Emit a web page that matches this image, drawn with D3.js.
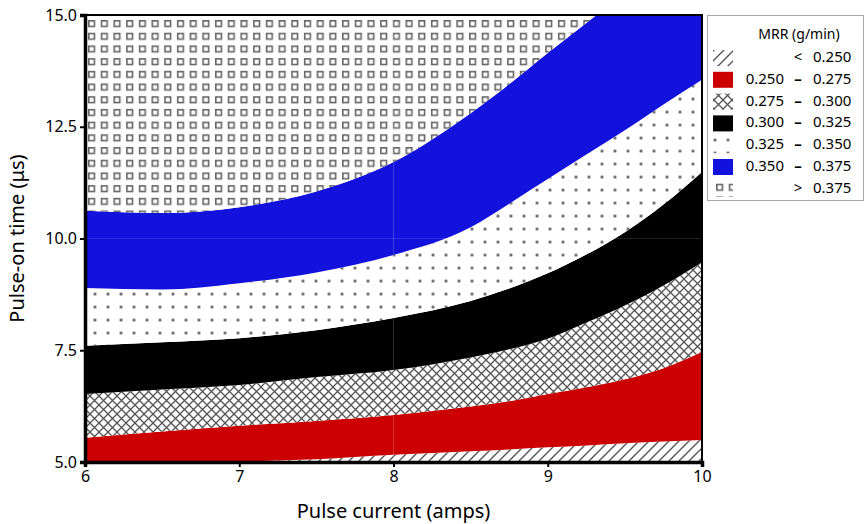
<!DOCTYPE html>
<html>
<head>
<meta charset="utf-8">
<script src="https://cdn.jsdelivr.net/npm/d3@7"></script>
<style>
  body { margin: 0; background: #fff; }
  text { font-family: "Noto Sans", sans-serif; fill: #000; }
</style>
</head>
<body>
<div id="chart"></div>
<script>
// ---- data ----
const pulseCurrent = [6, 6.5, 7, 7.5, 8, 8.5, 8.75, 9, 9.25, 9.5, 9.75, 10];
// pulse-on time where MRR crosses each contour level
const mrr250 = [4.75, 4.88, 5.00, 5.06, 5.16, 5.24, 5.28, 5.33, 5.37, 5.42, 5.46, 5.49];
const mrr275 = [5.54, 5.68, 5.81, 5.92, 6.05, 6.24, 6.36, 6.52, 6.67, 6.85, 7.10, 7.46];
const mrr300 = [6.52, 6.62, 6.72, 6.90, 7.06, 7.34, 7.52, 7.76, 8.12, 8.50, 8.95, 9.47];
const mrr325 = [7.60, 7.68, 7.77, 7.95, 8.22, 8.60, 8.88, 9.22, 9.64, 10.14, 10.76, 11.49];
const mrr350 = [8.89, 8.86, 9.00, 9.24, 9.63, 10.25, 10.78, 11.33, 11.88, 12.42, 13.00, 13.55];
const mrr375 = [10.62, 10.57, 10.70, 11.05, 11.71, 12.80, 13.45, 14.15, 14.82, 15.50, 16.10, 16.60];

const xTicks = [6, 7, 8, 9, 10];
const yTicks = [5, 7.5, 10, 12.5, 15];
const legendLo = ['', '0.250', '0.275', '0.300', '0.325', '0.350', ''];
const legendHi = ['0.250', '0.275', '0.300', '0.325', '0.350', '0.375', '0.375'];
const legendSign = ['<', '–', '–', '–', '–', '–', '>'];
const bandKinds = ['hatch', 'red', 'cross', 'black', 'dots', 'blue', 'squares'];

// ---- layout ----
const W = 865, H = 524;
const plot = { left: 85, right: 702, top: 15, bottom: 462 };

const svg = d3.select('#chart').append('svg')
  .attr('width', W)
  .attr('height', H);

const x = d3.scaleLinear().domain([6, 10]).range([plot.left, plot.right]);
const y = d3.scaleLinear().domain([5, 15]).range([plot.bottom, plot.top]);

// ---- patterns ----
const defs = svg.append('defs');
const ink = '#555';
const solid = { red: '#cc0000', black: '#000000', blue: '#1212dc' };

// builds a fill pattern; ox/oy shift the tile so legend swatches line up like the original
const makePattern = (id, kind, ox, oy) => {
  const size = { hatch: 10, cross: 9, dots: 13, squares: 12.7 }[kind];
  const p = defs.append('pattern').attr('id', id)
    .attr('patternUnits', 'userSpaceOnUse')
    .attr('width', size).attr('height', size)
    .attr('x', ox).attr('y', oy);
  p.append('rect').attr('width', size).attr('height', size).attr('fill', '#fff');
  if (kind === 'hatch') {
    p.append('path').attr('d', 'M-2,12 L12,-2 M-2,2 L2,-2 M8,12 L12,8')
      .attr('stroke', ink).attr('stroke-width', 1.4);
  } else if (kind === 'cross') {
    p.append('path').attr('d', 'M0,0 L9,9 M9,0 L0,9')
      .attr('stroke', ink).attr('stroke-width', 1.3);
  } else if (kind === 'dots') {
    p.append('circle').attr('cx', 6.5).attr('cy', 6.5).attr('r', 1.5).attr('fill', ink);
  } else {
    p.append('rect').attr('x', 0.8).attr('y', 0.8).attr('width', 5.6).attr('height', 5.6)
      .attr('fill', 'none').attr('stroke', '#666').attr('stroke-width', 1.6);
  }
  return `url(#${id})`;
};

const plotFill = {
  hatch: makePattern('hatch', 'hatch', 0, 0),
  cross: makePattern('cross', 'cross', 0, 0),
  dots: makePattern('dots', 'dots', 88.5, 287.5),
  squares: makePattern('squares', 'squares', 88, 20),
  ...solid
};
const legendFill = {
  hatch: makePattern('lg-hatch', 'hatch', 4, 0),
  cross: makePattern('lg-cross', 'cross', 714, 91),
  dots: makePattern('lg-dots', 'dots', 708.5, 133.5),
  squares: makePattern('lg-squares', 'squares', 716, 171),
  ...solid
};

defs.append('clipPath').attr('id', 'plotClip')
  .append('rect')
  .attr('x', plot.left).attr('y', plot.top)
  .attr('width', plot.right - plot.left).attr('height', plot.bottom - plot.top);

// ---- contour bands ----
const floor = pulseCurrent.map(() => y.domain()[0] - 1);
const ceil = pulseCurrent.map(() => y.domain()[1] + 1);
const edges = [floor, mrr250, mrr275, mrr300, mrr325, mrr350, mrr375, ceil];

const area = d3.area()
  .x(d => x(d.x))
  .y0(d => y(d.lo))
  .y1(d => y(d.hi))
  .curve(d3.curveMonotoneX);

const bandsG = svg.append('g').attr('clip-path', 'url(#plotClip)');
bandKinds.forEach((kind, i) => {
  const pts = pulseCurrent.map((px, j) => ({ x: px, lo: edges[i][j], hi: edges[i + 1][j] }));
  bandsG.append('path')
    .attr('d', area(pts))
    .attr('fill', plotFill[kind]);
});

// faint tile seams visible in the original render
bandsG.append('line')
  .attr('x1', x(8)).attr('x2', x(8)).attr('y1', plot.top).attr('y2', plot.bottom)
  .attr('stroke', '#fff').attr('stroke-opacity', 0.18);
bandsG.append('line')
  .attr('x1', plot.left).attr('x2', plot.right).attr('y1', y(10)).attr('y2', y(10))
  .attr('stroke', '#fff').attr('stroke-opacity', 0.12);

// ---- frame & axes ----
svg.append('rect')
  .attr('x', plot.left).attr('y', plot.top)
  .attr('width', plot.right - plot.left).attr('height', plot.bottom - plot.top)
  .attr('fill', 'none').attr('stroke', '#000').attr('stroke-width', 2);

const xAxis = svg.append('g')
  .attr('transform', `translate(0,${plot.bottom})`)
  .call(d3.axisBottom(x).tickValues(xTicks).tickFormat(d3.format('d')).tickSize(5).tickPadding(4));
const yAxis = svg.append('g')
  .attr('transform', `translate(${plot.left},0)`)
  .call(d3.axisLeft(y).tickValues(yTicks).tickFormat(d3.format('.1f')).tickSize(5).tickPadding(3));

[xAxis, yAxis].forEach(g => {
  g.select('.domain').attr('stroke-width', 3.5);
  g.selectAll('.tick line').attr('stroke-width', 2);
  g.selectAll('.tick text').style('font-size', '16px').style('font-family', '"Noto Sans", sans-serif');
});

svg.append('text')
  .attr('x', (plot.left + plot.right) / 2)
  .attr('y', 518)
  .attr('text-anchor', 'middle')
  .style('font-size', '20px')
  .text('Pulse current (amps)');

svg.append('text')
  .attr('transform', `translate(24,${(plot.top + plot.bottom) / 2}) rotate(-90)`)
  .attr('text-anchor', 'middle')
  .style('font-size', '20px')
  .text('Pulse-on time (μs)');

// ---- legend ----
const legend = svg.append('g');
legend.append('rect')
  .attr('x', 707.5).attr('y', 15.5).attr('width', 156).attr('height', 185)
  .attr('fill', '#fff').attr('stroke', '#aaa');
legend.append('text')
  .attr('x', 799).attr('y', 39)
  .attr('text-anchor', 'middle')
  .style('font-size', '14px')
  .text('MRR (g/min)');

bandKinds.forEach((kind, i) => {
  const base = 62 + i * 21.8;
  const row = legend.append('g');
  row.append('rect')
    .attr('x', 713).attr('y', base - 12).attr('width', 20).attr('height', 16)
    .attr('fill', legendFill[kind]);
  row.append('text').attr('x', 784).attr('y', base)
    .attr('text-anchor', 'end').style('font-size', '15px').text(legendLo[i]);
  row.append('text').attr('x', 798).attr('y', base)
    .attr('text-anchor', 'middle').style('font-size', '15px')
    .style('font-weight', legendSign[i] === '–' ? 'bold' : 'normal')
    .text(legendSign[i]);
  row.append('text').attr('x', 813).attr('y', base)
    .attr('text-anchor', 'start').style('font-size', '15px').text(legendHi[i]);
});
</script>
</body>
</html>
